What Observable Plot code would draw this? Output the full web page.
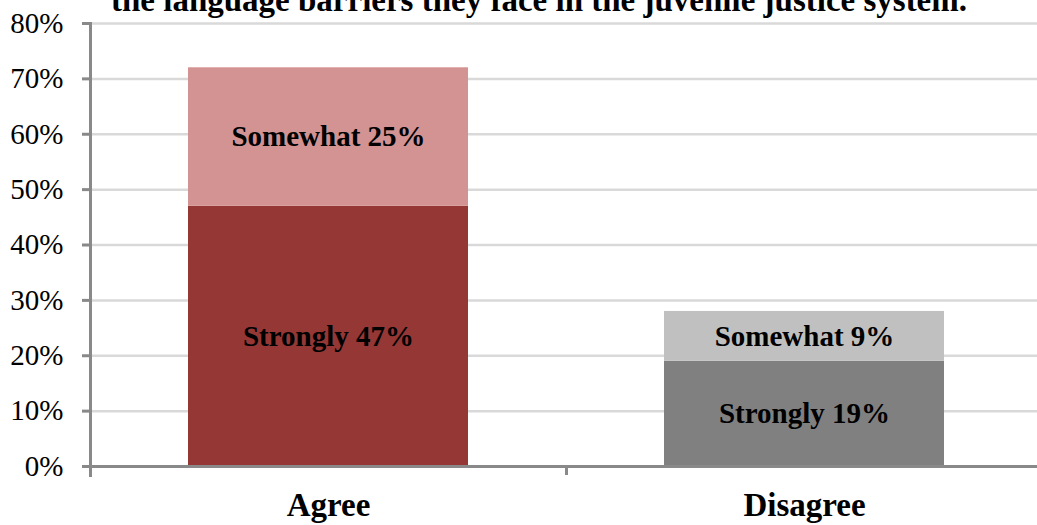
<!DOCTYPE html>
<html>
<head>
<meta charset="utf-8">
<script src="https://cdn.jsdelivr.net/npm/d3@7"></script>
<script src="https://cdn.jsdelivr.net/npm/@observablehq/plot@0.6"></script>
<style>
  html, body { margin: 0; padding: 0; background: #fff; overflow: hidden; }
  #wrap { position: relative; width: 1037px; height: 525px; overflow: hidden; font-family: "Liberation Serif", "Times New Roman", serif; }
  #title { position: absolute; left: 0; width: 1078px; top: -16px; text-align: center; font-weight: bold; font-size: 33px; line-height: 33px; color: #000; white-space: nowrap; z-index: 2; }
  #chart svg { display: block; }
  #chart svg text { font-family: "Liberation Serif", "Times New Roman", serif; }
  g[aria-label="x-axis tick label"] text { font-size: 33px; font-weight: bold; }
</style>
</head>
<body>
<div id="wrap">
  <div id="title">the language barriers they face in the juvenile justice system.</div>
  <div id="chart"></div>
</div>
<script>
const categories = ["Agree", "Disagree"];
const levels = ["Strongly", "Somewhat"];
const strongly = [47, 19];
const somewhat = [25, 9];
const yTicks = [0, 10, 20, 30, 40, 50, 60, 70, 80];
const segmentKeys = ["Agree Strongly", "Agree Somewhat", "Disagree Strongly", "Disagree Somewhat"];
const segmentColors = ["#953735", "#D39392", "#808080", "#C0C0C0"];

const data = [];
categories.forEach((c, i) => {
  data.push({category: c, level: levels[0], value: strongly[i]});
  data.push({category: c, level: levels[1], value: somewhat[i]});
});

const axisColor = "#898989";
const font = "'Liberation Serif', 'Times New Roman', serif";

const chart = Plot.plot({
  width: 1037,
  height: 525,
  marginLeft: 90,
  marginRight: -5,
  marginTop: 23,
  marginBottom: 59,
  style: {fontFamily: font, background: "#fff", color: "#000"},
  x: {domain: categories, padding: 0, label: null},
  y: {domain: [0, 80], label: null},
  color: {domain: segmentKeys, range: segmentColors},
  marks: [
    Plot.gridY(yTicks, {stroke: "#d9d9d9", strokeWidth: 2.5, strokeOpacity: 1}),
    Plot.barY(data, {
      x: "category",
      y: "value",
      fill: d => d.category + " " + d.level,
      insetLeft: 98,
      insetRight: 98
    }),
    Plot.text(data, Plot.stackY({
      x: "category",
      y: "value",
      text: d => `${d.level} ${d.value}%`,
      fontSize: 29,
      fontWeight: "bold",
      fontFamily: font,
      fill: "#000"
    })),
    Plot.frame({anchor: "left", stroke: axisColor, strokeWidth: 3, insetBottom: -9}),
    Plot.ruleY([0], {stroke: axisColor, strokeWidth: 3, insetLeft: -8}),
    Plot.ruleX(categories, {x: d => d, dx: -238, y1: 0, y2: 0, insetBottom: -9, stroke: axisColor, strokeWidth: 3}),
    Plot.axisY(yTicks, {
      tickSize: 8,
      tickPadding: 19,
      stroke: axisColor,
      strokeWidth: 3,
      tickFormat: d => d + "%",
      fontSize: 29,
      fontFamily: font,
      fill: "#000",
      label: null
    }),
    Plot.axisX({
      tickSize: 0,
      tickPadding: 26,
      fontSize: 33,
      fontWeight: "bold",
      fontFamily: font,
      fill: "#000",
      label: null
    })
  ]
});
document.getElementById("chart").appendChild(chart);
</script>
</body>
</html>
